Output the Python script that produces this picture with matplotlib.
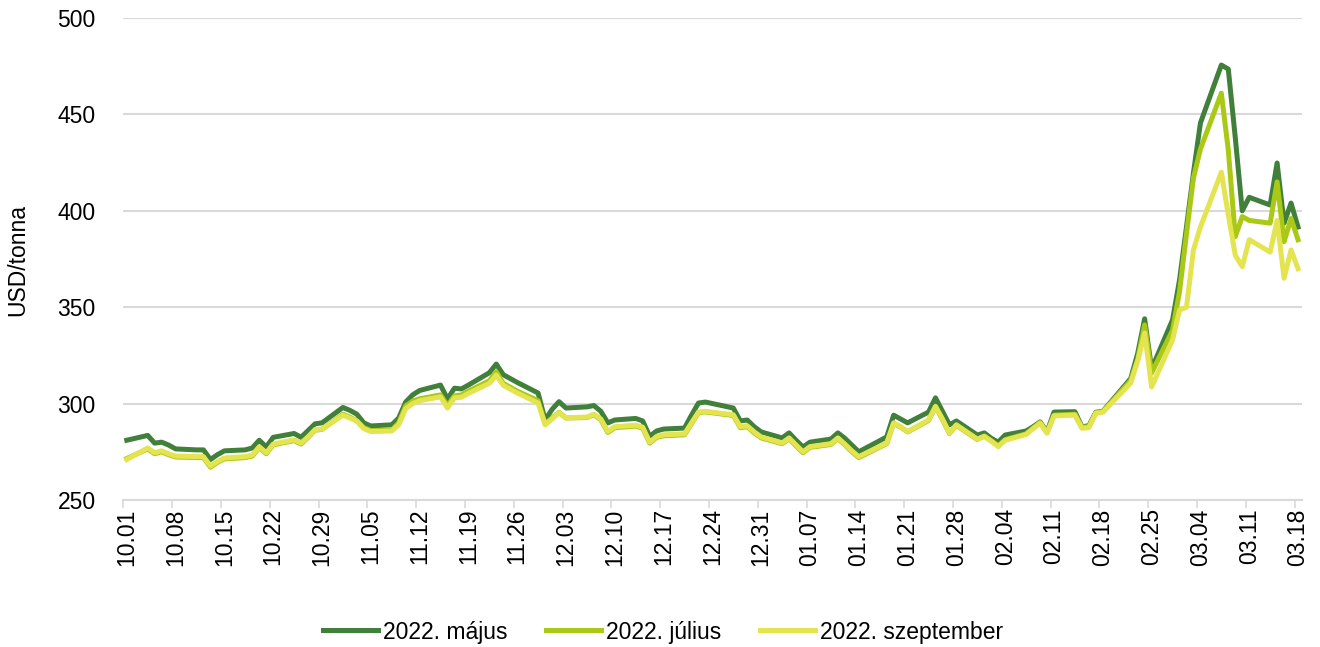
import matplotlib
matplotlib.use("Agg")
import matplotlib.pyplot as plt
import matplotlib.dates as mdates
import numpy as np
import pandas as pd

plt.rcParams["font.family"] = ["Liberation Sans", "DejaVu Sans"]

# trading days (CBOT holidays left out)
holidays = ["2021-11-25", "2021-12-24", "2022-01-17", "2022-02-21"]
dates = pd.bdate_range("2021-10-01", "2022-03-18")
dates = dates[~dates.isin(pd.to_datetime(holidays))]

majus = [
    # Oct
    281, 283.5, 279.5, 280, 278.5, 276.5, 276, 276, 271, 273.5, 275.5,
    276, 277, 281, 277.5, 282.5, 284.5, 282.5, 286, 289.5, 290,
    # Nov
    298, 296.5, 294.5, 290, 288.4, 289, 292.5, 300.8, 304.5, 306.8, 309.6,
    302.4, 308, 307.6, 309.6, 316, 320.5, 315, 311, 305.5, 291.5,
    # Dec
    297, 301, 297.7, 298.3, 299, 296, 290, 291.5, 292.3, 291, 283,
    285.8, 286.8, 287.3, 294, 300.3, 300.8, 297.7, 291, 291.5, 288, 285.3,
    # Jan
    282.2, 284.8, 281, 277.5, 280, 281.6, 284.8, 282, 278.5, 275,
    282.7, 294, 292, 290, 295.6, 303, 296, 289, 291, 283.7,
    # Feb
    284.8, 282, 280, 283.7, 285.8, 288, 290.5, 285.3, 295.6, 295.8,
    288, 288.5, 295.5, 296, 313, 326, 344, 318, 343.4,
    # Mar
    364, 391.6, 419.6, 445.5, 475.6, 473.5, 438, 400, 407, 403,
    424.8, 393.6, 404, 391.6,
]
julius = [
    271.5, 276.5, 274, 275, 273.5, 272.3, 272, 272, 267, 269.5, 271.3,
    272, 272.8, 277.2, 274, 278.6, 280.8, 279, 282.5, 286.2, 286.6,
    294.5, 293, 291, 287.5, 286, 286.3, 290, 298.8, 301.3, 302.5, 304.5,
    299, 304, 304.5, 306.5, 311.8, 316.5, 310.5, 306.5, 301.5, 289.5,
    292.5, 295.5, 292.5, 292.8, 294.2, 291.6, 285, 287.5, 288.3, 287.3, 279.5,
    282.5, 283.3, 283.8, 289.6, 295.3, 295.7, 293.8, 287.5, 288, 284.8, 282.2,
    279.2, 281.8, 278, 274.5, 277.3, 278.8, 281.8, 278.6, 275, 272,
    279.2, 289.8, 287.8, 285.3, 291.2, 298.5, 291.7, 284.5, 288.7, 281.4,
    283.2, 280.8, 278, 281.3, 284.3, 287.3, 290.2, 285, 294, 294.5,
    287.8, 288, 295.3, 295.8, 312, 323, 340.8, 315.9, 338,
    358, 388, 417, 432, 461, 431.5, 386.6, 397, 395, 393.6,
    415, 384, 396, 385,
]
szeptember = [
    271, 277, 274.5, 275.5, 274, 272.8, 272.5, 272.5, 267.6, 270, 271.8,
    272.5, 273.3, 277.6, 274.5, 279, 281.2, 279.5, 282.8, 286.5, 286.8,
    294, 292.5, 291, 287, 285.5, 285.8, 289, 297.3, 300, 301.5, 303.5,
    297.7, 303, 303.3, 305.3, 310.5, 314.8, 309.5, 305.5, 300.3, 289,
    292, 295.3, 292.7, 293, 294.5, 292, 285.5, 288, 288.8, 287.8, 280,
    283, 283.8, 284.3, 290, 295.6, 296, 294.2, 288, 288.5, 285.3, 282.7,
    279.6, 282.2, 278.5, 275, 277.7, 279.2, 282.2, 279, 275.5, 272.5,
    279.5, 290, 288, 285.5, 291.5, 298.5, 292, 284.7, 289, 281.6,
    283, 280.5, 277.7, 281, 284, 287, 289.8, 284.6, 293.6, 294,
    287.2, 287.5, 295, 295.5, 310.7, 322, 336.6, 308.6, 333,
    348.5, 350, 379.7, 391.6, 420, 398, 377, 371, 385, 378.6,
    395, 365, 379.7, 370,
]
series = [("2022. május", majus, "#41803A"),
          ("2022. július", julius, "#AAC816"),
          ("2022. szeptember", szeptember, "#E4E450")]

fig = plt.figure(figsize=(13.2, 6.47), dpi=100)
ax = fig.add_axes([123.3 / 1320, 1 - 500 / 647, (1301.5 - 123.3) / 1320, 482 / 647])

for name, vals, col in series:
    ax.plot(dates, vals, color=col, lw=3.6, label=name, solid_joinstyle="round", zorder=3)

# Excel-style date axis: each day is a slot, points sit in the middle of it
half = pd.Timedelta(hours=12)
ax.set_xlim(dates[0] - half, dates[-1] + half)
ax.set_ylim(250, 500)
ax.set_yticks(np.arange(250, 501, 50))

weeks = pd.date_range("2021-10-01", "2022-03-18", freq="7D")
ax.set_xticks(weeks)
ax.xaxis.set_major_formatter(mdates.DateFormatter("%m.%d"))
ax.set_xticks(weeks - half, minor=True)
ax.tick_params(axis="x", which="major", length=0, labelrotation=90, labelsize=16.5, pad=6)
ax.tick_params(axis="x", which="minor", length=6, width=1.2, color="#D9D9D9")
ax.tick_params(axis="y", length=0, labelsize=16.5, pad=20)

ax.grid(axis="y", color="#D9D9D9", lw=1.5, zorder=0)
for s in ["top", "right", "left"]:
    ax.spines[s].set_visible(False)
ax.spines["bottom"].set_color("#D9D9D9")
ax.spines["bottom"].set_linewidth(1.5)

fig.text(18 / 1320, 1 - 260 / 647, "USD/tonna", rotation=90, va="center", ha="center", fontsize=16.5)

fig.legend(loc="center", bbox_to_anchor=(663 / 1320, 1 - 632 / 647), ncol=3, frameon=False,
           fontsize=16.5, handlelength=2.4, handletextpad=0.2, columnspacing=1.7)

fig.savefig("out.png", dpi=100)
